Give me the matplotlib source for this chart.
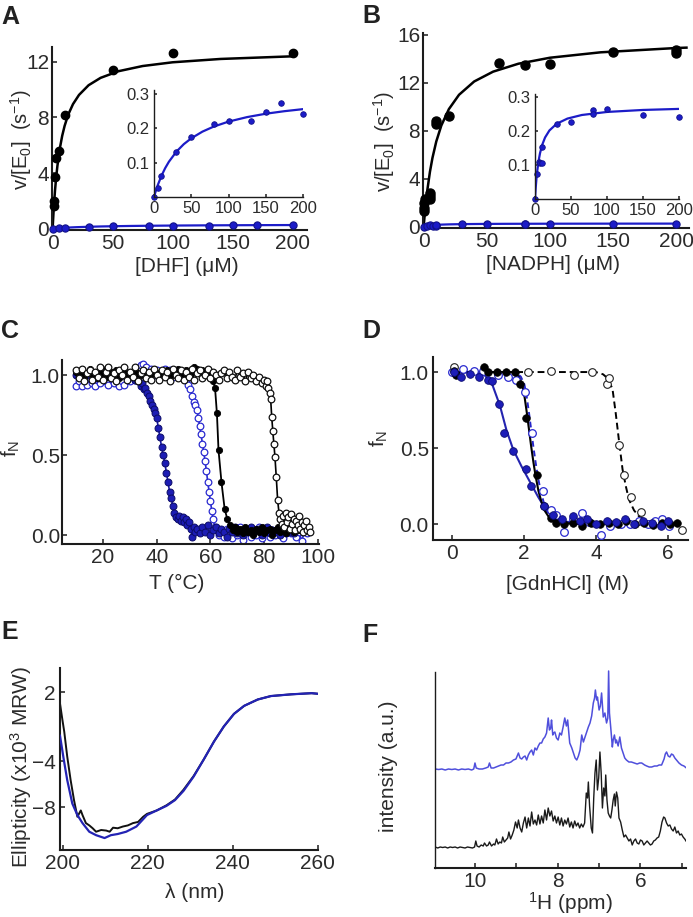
import matplotlib
matplotlib.use('Agg')
import matplotlib.pyplot as plt

plt.rcParams['font.family'] = ['Liberation Sans', 'DejaVu Sans']
plt.rcParams['mathtext.default'] = 'regular'

# ---------------- data ----------------
# Panel A (DHF)
dhf_x = [1, 1, 2, 2.5, 5, 10, 50, 100, 200]
dhf_black = [1.6, 2.0, 3.7, 5.1, 5.6, 8.2, 11.4, 12.65, 12.65]
dhf_fit_x = [0, 1, 2, 3, 4, 6, 8, 10, 13, 17, 22, 30, 40, 55, 75, 100, 140, 200]
dhf_fit_black = [0, 1.53, 2.74, 3.71, 4.51, 5.76, 6.68, 7.39, 8.20, 8.96, 9.62, 10.32,
                 10.85, 11.33, 11.70, 11.97, 12.21, 12.40]
dhf_blue_x = [0, 5, 10, 30, 50, 80, 100, 130, 150, 170, 200]
dhf_blue = [0.0, 0.026, 0.061, 0.131, 0.175, 0.212, 0.222, 0.222, 0.249, 0.273, 0.242]
dhf_fit_blue_x = [0, 2, 5, 10, 15, 20, 30, 40, 50, 65, 80, 100, 125, 150, 175, 200]
dhf_fit_blue = [0, 0.0147, 0.0343, 0.0618, 0.0842, 0.1028, 0.1321, 0.1541, 0.1711,
                0.1906, 0.2052, 0.2198, 0.2330, 0.2428, 0.2502, 0.2562]

# Panel B (NADPH)
nadph_x = [0.5, 0.5, 0.5, 1, 5, 5, 5, 10, 10, 20, 60, 80, 100, 150, 200, 200]
nadph_black = [1.3, 1.6, 2.0, 2.3, 2.3, 2.55, 2.8, 8.6, 8.8, 9.2, 13.65, 13.5, 13.6,
               14.6, 14.5, 14.75]
nadph_fit_x = [0, 1, 2, 3, 5, 7, 10, 14, 20, 28, 40, 55, 75, 100, 140, 200, 208]
nadph_fit_black = [0, 1.19, 2.22, 3.11, 4.59, 5.75, 7.11, 8.44, 9.81, 11.0, 12.11,
                   12.93, 13.59, 14.09, 14.54, 14.90, 14.93]
nadph_blue_x = [0, 2.5, 5, 7.5, 10, 10, 30, 50, 80, 80, 100, 150, 200]
nadph_blue = [0, 0.075, 0.11, 0.105, 0.105, 0.155, 0.22, 0.228, 0.262, 0.252, 0.267,
              0.248, 0.243]
nadph_fit_blue_x = [0, 1, 2, 3, 5, 7, 10, 14, 20, 30, 45, 65, 100, 150, 200]
nadph_fit_blue = [0, 0.0334, 0.0597, 0.0807, 0.1126, 0.1355, 0.1599, 0.1817, 0.2023,
                  0.2220, 0.2374, 0.2480, 0.2570, 0.2629, 0.2660]

# Panel C (thermal melts): (T, fN)
c_filled_blue = [
    (10, 1.00), (11, 0.99), (12, 1.01), (13, 0.98), (14, 1.00), (15, 1.02), (16, 0.99),
    (17, 1.01), (18, 0.98), (19, 1.00), (20, 1.02), (21, 0.99), (22, 1.01), (23, 1.00),
    (24, 0.98), (25, 1.02), (26, 0.99), (27, 1.01), (28, 1.00), (29, 0.98), (30, 1.01),
    (31, 0.99), (32, 0.97), (33, 0.96), (34, 0.93), (34.6, 0.95), (35.2, 0.91),
    (35.8, 0.92), (36.4, 0.89), (37.0, 0.87), (37.6, 0.84), (38.2, 0.81), (38.8, 0.79),
    (39.4, 0.76), (40.0, 0.73), (40.6, 0.67), (41.2, 0.61), (41.8, 0.55), (42.4, 0.50),
    (43.0, 0.45), (43.6, 0.39), (44.2, 0.33), (44.8, 0.27), (45.4, 0.23), (46.0, 0.18),
    (46.6, 0.14), (47.2, 0.11), (47.8, 0.10), (48.4, 0.12), (49.0, 0.09), (49.6, 0.11),
    (50.2, 0.08), (50.8, 0.10), (51.4, 0.06), (52.0, 0.08), (52.6, 0.04), (53.2, -0.01),
    (53.8, 0.05), (54.4, 0.02), (55, 0.04), (56, 0.01), (57, 0.05), (58, 0.02),
    (59, 0.06), (60, 0.00), (61, 0.03), (62, 0.05), (63, 0.01), (64, 0.04), (65, 0.02),
    (66, -0.01), (67, 0.04), (68, 0.02), (69, 0.05), (70, 0.01), (71, 0.03), (72, 0.00),
    (73, 0.04), (74, 0.02), (75, 0.05), (76, 0.01), (77, 0.03), (78, 0.04), (79, 0.00),
    (80, 0.02), (81, 0.05), (82, 0.01), (83, 0.03), (84, 0.02), (85, 0.04), (86, 0.00),
    (87, 0.03), (88, 0.01), (89, 0.04), (90, 0.02), (91, 0.01)]
c_open_blue = [
    (10, 0.93), (11, 0.96), (12, 0.93), (13, 0.97), (14, 0.94), (15, 0.98), (16, 0.95),
    (17, 0.93), (18, 0.97), (19, 0.95), (20, 1.00), (21, 0.96), (22, 0.94), (23, 0.98),
    (24, 0.95), (25, 0.97), (26, 0.93), (27, 0.96), (28, 0.94), (29, 0.98), (30, 0.96),
    (31, 1.00), (32, 0.97), (33, 1.03), (34, 1.06), (35, 1.07), (36, 1.05), (37, 1.02),
    (38, 1.04), (39, 1.00), (40, 1.03), (41, 0.99), (42, 1.02), (43, 1.04), (44, 1.00),
    (45, 1.03), (46, 0.99), (47, 1.02), (48, 1.00), (49, 1.01), (50, 0.98), (50.8, 0.97),
    (51.6, 0.94), (52.4, 0.91), (53.2, 0.87), (53.8, 0.83), (54.4, 0.81), (55.0, 0.78),
    (55.5, 0.73), (56.0, 0.68), (56.5, 0.63), (57.0, 0.57), (57.5, 0.52), (58.0, 0.46),
    (58.5, 0.40), (59.0, 0.33), (59.5, 0.27), (60.0, 0.21), (60.5, 0.15), (61.0, 0.10),
    (61.6, 0.05), (62.3, 0.03), (63, 0.00), (64, 0.02), (65, -0.01), (66, 0.04),
    (67, 0.01), (68, -0.02), (69, 0.03), (70, 0.00), (71, 0.05), (72, -0.03), (73, 0.02),
    (74, 0.04), (75, -0.01), (76, 0.03), (77, 0.00), (78, 0.05), (79, -0.02), (80, 0.02),
    (81, 0.04), (82, -0.01), (83, 0.03), (84, 0.00), (85, 0.04), (86, 0.01), (87, -0.02),
    (88, 0.03), (89, 0.05), (90, 0.01), (91, 0.03), (92, -0.01), (93, 0.02), (94, -0.04),
    (95, 0.03), (96, 0.01)]
c_filled_black = [
    (10, 1.02), (11, 1.00), (12, 1.03), (13, 0.99), (14, 1.01), (15, 1.04), (16, 1.00),
    (17, 1.02), (18, 0.98), (19, 1.03), (20, 1.01), (21, 1.04), (22, 0.99), (23, 1.02),
    (24, 1.00), (25, 1.03), (26, 0.98), (27, 1.01), (28, 1.04), (29, 1.00), (30, 1.02),
    (31, 0.99), (32, 1.03), (33, 1.01), (34, 1.00), (35, 1.03), (36, 0.99), (37, 1.02),
    (38, 1.00), (39, 1.04), (40, 1.01), (41, 0.98), (42, 1.02), (43, 1.00), (44, 1.03),
    (45, 0.99), (46, 1.02), (47, 1.00), (48, 1.04), (49, 1.01), (50, 0.99), (51, 1.03),
    (52, 1.00), (53, 1.02), (54, 1.05), (55, 1.04), (56, 1.01), (57, 1.03), (58, 1.00),
    (59, 1.02), (60, 0.99), (61, 0.96), (61.7, 0.92), (62.4, 0.76), (63.0, 0.53),
    (64.1, 0.33), (65.3, 0.16), (66.3, 0.10), (67.3, 0.06), (68.3, 0.03), (69, 0.05),
    (70, 0.02), (71, 0.04), (72, 0.01), (73, 0.05), (74, 0.02), (75, 0.03), (76, 0.00),
    (77, 0.04), (78, 0.02), (79, 0.05), (80, 0.01), (81, 0.03), (82, 0.04), (83, 0.00),
    (84, 0.03), (85, 0.05), (86, 0.02), (87, 0.04), (88, 0.01), (89, 0.03), (90, 0.05),
    (91, 0.02), (92, 0.04), (93, 0.03)]
c_open_black = [
    (10, 1.03), (11, 0.98), (12, 1.04), (13, 0.96), (14, 1.01), (15, 1.03), (16, 0.97),
    (17, 1.02), (18, 0.99), (19, 1.05), (20, 0.97), (21, 1.02), (22, 1.05), (23, 0.98),
    (24, 1.01), (25, 0.96), (26, 1.03), (27, 1.00), (28, 1.05), (29, 0.97), (30, 1.02),
    (31, 0.99), (32, 1.05), (33, 0.96), (34, 1.01), (35, 1.03), (36, 0.98), (37, 1.02),
    (38, 0.97), (39, 1.04), (40, 1.00), (41, 0.97), (42, 1.03), (43, 0.99), (44, 1.02),
    (45, 0.96), (46, 1.04), (47, 1.00), (48, 0.98), (49, 1.03), (50, 0.97), (51, 1.02),
    (52, 0.99), (53, 1.04), (54, 0.97), (55, 1.01), (56, 1.03), (57, 0.98), (58, 1.00),
    (59, 1.04), (60, 0.98), (61, 1.02), (62, 1.00), (63, 0.97), (64, 1.01), (65, 1.03),
    (66, 0.98), (67, 1.02), (68, 0.99), (69, 0.97), (70, 1.03), (71, 0.99), (72, 1.01),
    (73, 0.96), (74, 1.02), (75, 0.98), (76, 1.00), (77, 0.96), (78, 0.99), (79, 0.95),
    (80, 0.97), (80.5, 0.93), (81.0, 0.96), (81.5, 0.92), (82.0, 0.89), (82.4, 0.85),
    (82.8, 0.74), (83.2, 0.65), (83.6, 0.57), (84.0, 0.49), (84.5, 0.36), (85.0, 0.22),
    (85.5, 0.14), (86.0, 0.10), (86.5, 0.07), (87, 0.12), (87.5, 0.05), (88, 0.14),
    (88.5, 0.08), (89, 0.11), (89.5, 0.04), (90, 0.13), (90.5, 0.07), (91, 0.10),
    (91.5, 0.03), (92, 0.09), (92.5, 0.06), (93, 0.12), (93.5, 0.04), (94, 0.08),
    (94.5, 0.02), (95, 0.06), (95.5, 0.09), (96, 0.03), (96.5, 0.05), (97, 0.02)]

# Panel D (GdnHCl denaturation): (M, fN)
d_filled_black = [
    (0.05, 1.01), (0.1, 0.98), (0.9, 1.03), (1.0, 1.00), (1.25, 1.00), (1.5, 1.00),
    (1.75, 1.00), (1.9, 0.92), (2.05, 0.70), (2.35, 0.32), (2.55, 0.12), (2.75, 0.04),
    (2.9, 0.01), (3.1, 0.0), (3.35, 0.01), (3.6, -0.01), (3.85, 0.01), (4.1, 0.0),
    (4.35, 0.01), (4.6, 0.0), (4.85, 0.02), (5.1, 0.0), (5.35, 0.01), (5.6, -0.005),
    (5.85, 0.01), (6.05, 0.0), (6.25, 0.01)]
d_filled_blue = [
    (0.05, 1.00), (0.25, 0.97), (0.5, 0.99), (0.75, 0.97), (1.0, 0.95), (1.1, 0.94),
    (1.3, 0.79), (1.45, 0.60), (1.7, 0.48), (2.05, 0.36), (2.2, 0.25), (2.55, 0.12),
    (2.8, 0.06), (3.05, 0.03), (3.35, 0.05), (3.55, 0.02), (3.75, 0.03), (4.0, 0.0),
    (4.3, 0.02), (4.55, 0.015), (4.8, 0.03), (5.05, 0.0), (5.3, 0.02), (5.55, 0.01),
    (5.8, -0.01), (6.0, 0.02)]
d_open_blue = [
    (0.0, 1.00), (0.3, 1.02), (0.6, 1.01), (0.85, 1.01), (1.28, 0.98), (1.55, 0.97),
    (1.77, 0.95), (2.02, 0.87), (2.23, 0.60), (2.53, 0.22), (2.76, 0.09), (2.9, 0.06),
    (3.12, -0.05), (3.35, 0.03), (3.6, 0.07), (3.82, 0.015), (4.15, -0.07), (4.4, -0.01),
    (4.7, 0.0), (4.95, 0.0), (5.2, 0.02), (5.45, 0.0), (5.65, 0.02), (5.85, 0.03),
    (6.03, -0.01)]
d_open_black = [
    (0.05, 1.03), (2.1, 1.00), (2.75, 1.01), (3.4, 0.98), (3.9, 1.00), (4.32, 0.92),
    (4.37, 0.96), (4.65, 0.52), (4.78, 0.32), (4.97, 0.18), (5.25, 0.08), (6.4, -0.04)]
d_fit_black = [
    (0, 1.0), (1.7, 1.0), (1.85, 0.97), (1.95, 0.92), (2.02, 0.83), (2.08, 0.73),
    (2.14, 0.62), (2.20, 0.51), (2.26, 0.41), (2.32, 0.32), (2.40, 0.22), (2.48, 0.15),
    (2.57, 0.09), (2.68, 0.05), (2.85, 0.02), (3.1, 0.007), (3.5, 0.0), (6.3, 0.0)]
d_fit_open_blue = [
    (0, 1.0), (1.76, 1.0), (1.91, 0.97), (2.01, 0.92), (2.08, 0.83), (2.14, 0.73),
    (2.20, 0.62), (2.26, 0.51), (2.32, 0.41), (2.38, 0.32), (2.46, 0.22), (2.54, 0.15),
    (2.63, 0.09), (2.74, 0.05), (2.91, 0.02), (3.16, 0.007), (3.56, 0.0), (6.3, 0.0)]
d_fit_blue = [
    (0, 1.0), (0.7, 0.995), (0.9, 0.98), (1.10, 0.93), (1.33, 0.78), (1.51, 0.62),
    (1.70, 0.49), (1.93, 0.38), (2.16, 0.28), (2.39, 0.18), (2.62, 0.09), (2.85, 0.04),
    (3.17, 0.015), (4.0, 0.004), (6.3, 0.0)]
d_fit_open_black = [
    (0, 1.0), (4.0, 1.0), (4.2, 0.985), (4.32, 0.96), (4.46, 0.89), (4.55, 0.73),
    (4.65, 0.53), (4.74, 0.36), (4.83, 0.25), (4.92, 0.16), (5.06, 0.09), (5.2, 0.05),
    (5.47, 0.015), (5.84, 0.004), (6.3, 0.0)]

# Panel E (CD spectra): (nm, ellipticity)
e_black = [
    (199.3, 1.0), (199.9, -0.5), (200.3, -1.45), (201.0, -3.6), (201.8, -5.65),
    (202.6, -7.4), (203.4, -8.85), (204.2, -8.3), (204.6, -8.7), (205.4, -9.4),
    (206.2, -9.6), (207.0, -9.85), (207.8, -10.15), (209.0, -10.0), (210.2, -10.05),
    (211.0, -10.15), (211.8, -9.8), (212.9, -9.85), (214.1, -9.7), (215.3, -9.6),
    (216.5, -9.4), (217.7, -9.3), (218.9, -8.85), (219.8, -8.6), (222.1, -8.3),
    (224.4, -7.85), (226.4, -7.35), (228.4, -6.5), (230.8, -5.3), (233.2, -3.85),
    (235.6, -2.3), (237.9, -1.0), (240.3, 0.1), (242.7, 0.8), (245.9, 1.35),
    (249.0, 1.65), (253.8, 1.8), (258.6, 1.9), (260.0, 1.85)]
e_blue = [
    (199.3, -1.8), (200.2, -3.9), (201.0, -5.65), (202.2, -7.7), (203.4, -8.7),
    (204.6, -9.4), (206.2, -10.15), (207.8, -10.45), (209.8, -10.7), (211.3, -10.45),
    (212.9, -10.35), (214.9, -10.15), (217.3, -9.7), (219.8, -8.7), (222.1, -8.3),
    (224.4, -7.9), (226.4, -7.4), (228.4, -6.6), (230.8, -5.35), (233.2, -3.85),
    (235.6, -2.3), (237.9, -1.0), (240.3, 0.1), (242.7, 0.8), (245.9, 1.35),
    (249.0, 1.65), (253.8, 1.8), (258.6, 1.9), (260.0, 1.85)]

# Panel F (1H NMR): (ppm, intensity a.u.)
nmr_black = [
    (10.96, 0.21), (10.90, 0.20), (10.84, 0.21), (10.78, 0.205), (10.72, 0.21),
    (10.66, 0.20), (10.60, 0.21), (10.54, 0.205), (10.48, 0.21), (10.42, 0.20),
    (10.36, 0.21), (10.30, 0.205), (10.24, 0.20), (10.18, 0.21), (10.12, 0.205),
    (10.06, 0.20), (10.01, 0.21), (9.98, 0.27), (9.95, 0.22), (9.90, 0.21), (9.85, 0.23),
    (9.80, 0.22), (9.77, 0.25), (9.72, 0.22), (9.68, 0.23), (9.65, 0.26), (9.60, 0.22),
    (9.55, 0.24), (9.52, 0.23), (9.48, 0.29), (9.44, 0.24), (9.40, 0.26), (9.36, 0.25),
    (9.33, 0.31), (9.29, 0.26), (9.25, 0.28), (9.21, 0.30), (9.18, 0.36), (9.14, 0.29),
    (9.10, 0.33), (9.06, 0.38), (9.02, 0.46), (8.98, 0.40), (8.95, 0.48), (8.91, 0.40),
    (8.87, 0.36), (8.83, 0.45), (8.79, 0.51), (8.75, 0.40), (8.71, 0.50), (8.67, 0.42),
    (8.63, 0.56), (8.59, 0.44), (8.55, 0.48), (8.51, 0.43), (8.47, 0.53), (8.43, 0.44),
    (8.39, 0.52), (8.35, 0.45), (8.31, 0.58), (8.27, 0.48), (8.23, 0.60), (8.19, 0.52),
    (8.15, 0.57), (8.11, 0.47), (8.07, 0.52), (8.03, 0.45), (7.99, 0.51), (7.95, 0.43),
    (7.91, 0.50), (7.87, 0.42), (7.83, 0.48), (7.79, 0.44), (7.75, 0.50), (7.71, 0.41),
    (7.67, 0.46), (7.63, 0.40), (7.59, 0.47), (7.55, 0.42), (7.51, 0.45), (7.47, 0.40),
    (7.43, 0.44), (7.39, 0.41), (7.35, 0.45), (7.31, 0.75), (7.28, 0.70), (7.26, 0.86),
    (7.23, 0.62), (7.19, 0.40), (7.16, 0.35), (7.13, 0.70), (7.10, 0.95), (7.07, 1.08),
    (7.04, 0.78), (7.01, 0.90), (6.98, 1.16), (6.95, 0.95), (6.92, 0.60), (6.89, 0.80),
    (6.86, 0.72), (6.84, 0.93), (6.81, 0.68), (6.78, 0.55), (6.75, 0.52), (6.72, 0.50),
    (6.69, 0.58), (6.66, 0.68), (6.63, 0.74), (6.61, 0.62), (6.58, 0.76), (6.55, 0.70),
    (6.52, 0.50), (6.48, 0.46), (6.44, 0.38), (6.40, 0.31), (6.36, 0.33), (6.32, 0.30),
    (6.28, 0.27), (6.24, 0.29), (6.20, 0.23), (6.16, 0.27), (6.12, 0.29), (6.08, 0.25),
    (6.04, 0.24), (6.00, 0.28), (5.96, 0.27), (5.92, 0.23), (5.88, 0.25), (5.84, 0.27),
    (5.80, 0.25), (5.76, 0.23), (5.72, 0.24), (5.68, 0.27), (5.64, 0.28), (5.60, 0.30),
    (5.56, 0.31), (5.52, 0.37), (5.48, 0.46), (5.44, 0.51), (5.41, 0.50), (5.37, 0.45),
    (5.33, 0.42), (5.29, 0.43), (5.25, 0.39), (5.21, 0.37), (5.17, 0.41), (5.13, 0.35),
    (5.09, 0.37), (5.05, 0.33), (5.01, 0.34), (4.97, 0.31), (4.93, 0.29), (4.90, 0.27)]
nmr_blue = [
    (10.96, 0.99), (10.88, 0.985), (10.80, 0.99), (10.72, 0.98), (10.64, 0.99),
    (10.56, 0.985), (10.48, 0.99), (10.40, 0.98), (10.32, 0.99), (10.24, 0.985),
    (10.16, 0.99), (10.08, 0.98), (10.03, 0.99), (10.00, 1.05), (9.97, 1.00), (9.90, 0.99),
    (9.82, 0.99), (9.74, 1.00), (9.68, 1.01), (9.65, 1.05), (9.61, 1.00), (9.55, 1.00),
    (9.49, 1.01), (9.43, 1.02), (9.37, 1.03), (9.31, 1.03), (9.25, 1.05), (9.19, 1.05),
    (9.13, 1.06), (9.07, 1.08), (9.01, 1.09), (8.95, 1.15), (8.91, 1.10), (8.87, 1.09),
    (8.83, 1.11), (8.79, 1.12), (8.75, 1.08), (8.71, 1.13), (8.67, 1.16), (8.63, 1.18),
    (8.59, 1.13), (8.55, 1.20), (8.51, 1.18), (8.47, 1.22), (8.43, 1.25), (8.39, 1.25),
    (8.35, 1.29), (8.31, 1.31), (8.27, 1.35), (8.23, 1.50), (8.20, 1.38), (8.17, 1.40),
    (8.15, 1.48), (8.12, 1.33), (8.10, 1.35), (8.07, 1.36), (8.03, 1.30), (7.99, 1.28),
    (7.95, 1.35), (7.91, 1.33), (7.87, 1.41), (7.83, 1.50), (7.79, 1.42), (7.76, 1.48),
    (7.71, 1.25), (7.66, 1.20), (7.62, 1.15), (7.58, 1.10), (7.54, 1.08), (7.50, 1.12),
    (7.46, 1.18), (7.42, 1.33), (7.38, 1.26), (7.34, 1.31), (7.30, 1.36), (7.26, 1.41),
    (7.22, 1.45), (7.18, 1.52), (7.14, 1.65), (7.11, 1.70), (7.09, 1.78), (7.06, 1.68),
    (7.04, 1.71), (7.00, 1.58), (6.97, 1.62), (6.94, 1.75), (6.90, 1.51), (6.86, 1.55),
    (6.82, 1.45), (6.79, 1.50), (6.77, 1.97), (6.75, 1.55), (6.72, 1.41), (6.68, 1.21),
    (6.66, 1.28), (6.63, 1.33), (6.60, 1.25), (6.58, 1.28), (6.54, 1.22), (6.50, 1.31),
    (6.46, 1.20), (6.42, 1.15), (6.38, 1.10), (6.34, 1.08), (6.28, 1.06), (6.22, 1.06),
    (6.15, 1.05), (6.08, 1.04), (6.02, 1.05), (5.97, 1.05), (5.90, 1.03), (5.85, 1.02),
    (5.79, 1.01), (5.73, 1.01), (5.66, 1.02), (5.60, 1.02), (5.55, 1.03), (5.49, 1.03),
    (5.43, 1.09), (5.40, 1.14), (5.37, 1.16), (5.33, 1.12), (5.29, 1.11), (5.25, 1.14),
    (5.21, 1.13), (5.17, 1.10), (5.13, 1.08), (5.07, 1.05), (5.01, 1.03), (4.95, 1.02),
    (4.89, 1.00)]

# ---------------- figure ----------------
W, H = 693, 917
fig = plt.figure(figsize=(W / 100, H / 100), dpi=100)

TXT = '#2b2b2b'
AX = '#1c1c1c'
BLUE = '#1c1cc8'
DBLUE = '#12128a'


def box(l, t, r, b):
    return fig.add_axes([l / W, 1 - b / H, (r - l) / W, (b - t) / H])


def ftext(x, y, s, **kw):
    kw.setdefault('color', TXT)
    fig.text(x / W, 1 - y / H, s, **kw)


def style(ax, fs=15, tl=3.5):
    for s in ('top', 'right'):
        ax.spines[s].set_visible(False)
    for s in ('left', 'bottom'):
        ax.spines[s].set_linewidth(1.5)
        ax.spines[s].set_color(AX)
    ax.tick_params(direction='in', length=tl, width=1.1, labelsize=fs,
                   colors=AX, labelcolor=TXT, pad=3)
    ax.patch.set_alpha(0)


def split(pairs):
    return [p[0] for p in pairs], [p[1] for p in pairs]


# ---- Panel A ----
ax = box(52, 47, 307, 230)
style(ax)
ax.plot(dhf_fit_x, dhf_fit_black, color='black', lw=1.8, zorder=2)
ax.plot(dhf_fit_blue_x, dhf_fit_blue, color=BLUE, lw=1.6, zorder=2)
ax.plot(dhf_x, dhf_black, 'o', ms=6, color='black', zorder=3, clip_on=False)
ax.plot(dhf_blue_x, dhf_blue, 'o', ms=5.2, mfc=BLUE, mec=DBLUE, mew=0.8, zorder=4,
        clip_on=False)
ax.set_xlim(-0.5, 212)
ax.set_ylim(-0.1, 13.07)
ax.set_xticks([0, 50, 100, 150, 200])
ax.set_yticks([0, 4, 8, 12])
ax.tick_params(axis='y', pad=2)

ins = box(154, 90, 303, 197)
style(ins, fs=12, tl=2.5)
ins.plot(dhf_fit_blue_x, dhf_fit_blue, color=BLUE, lw=1.6)
ins.plot(dhf_blue_x, dhf_blue, 'o', ms=4, mfc=BLUE, mec=DBLUE, mew=0.6, clip_on=False)
ins.set_xlim(0, 200)
ins.set_ylim(0, 0.312)
ins.set_xticks([0, 50, 100, 150, 200])
ins.set_yticks([0.1, 0.2, 0.3])
ins.spines['left'].set_linewidth(1.0)
ins.spines['bottom'].set_linewidth(1.0)

ftext(21, 140, 'v/[E$_0$]  (s$^{-1}$)', fontsize=14.5, rotation=90, ha='center',
      va='center')
ftext(187, 267, '[DHF] (\u03bcM)', fontsize=15, ha='center', va='center')

# ---- Panel B ----
ax = box(423, 33, 689, 228)
style(ax)
ax.plot(nadph_fit_x, nadph_fit_black, color='black', lw=1.8, zorder=2)
ax.plot(nadph_fit_blue_x, nadph_fit_blue, color=BLUE, lw=1.6, zorder=2)
ax.plot(nadph_x, nadph_black, 'o', ms=6.5, color='black', zorder=3, clip_on=False)
ax.plot(nadph_blue_x, nadph_blue, 'o', ms=5.2, mfc=BLUE, mec=DBLUE, mew=0.8, zorder=4,
        clip_on=False)
ax.set_xlim(-0.5, 210)
ax.set_ylim(-0.1, 16.15)
ax.set_xticks([0, 50, 100, 150, 200])
ax.set_yticks([0, 4, 8, 12, 16])
ax.tick_params(axis='y', pad=2)

ins = box(535, 94, 679, 199)
style(ins, fs=12, tl=2.5)
ins.plot(nadph_fit_blue_x, nadph_fit_blue, color=BLUE, lw=1.6)
ins.plot(nadph_blue_x, nadph_blue, 'o', ms=4, mfc=BLUE, mec=DBLUE, mew=0.6, clip_on=False)
ins.set_xlim(0, 200)
ins.set_ylim(0, 0.31)
ins.set_xticks([0, 50, 100, 150, 200])
ins.set_yticks([0.1, 0.2, 0.3])
ins.spines['left'].set_linewidth(1.0)
ins.spines['bottom'].set_linewidth(1.0)

ftext(384, 142, 'v/[E$_0$]  (s$^{-1}$)', fontsize=14.5, rotation=90, ha='center',
      va='center')
ftext(553, 265, '[NADPH] (\u03bcM)', fontsize=15, ha='center', va='center')

# ---- Panel C ----
ax = box(62, 360, 319, 544)
style(ax)
T, f = split(c_open_blue)
ax.plot(T, f, '-o', color='#2a2ad0', lw=1.2, ms=4.8, mfc='white', mec='#2a2ad0', mew=0.9,
        zorder=2)
T, f = split(c_filled_blue)
ax.plot(T, f, '-o', color='#1a1aa8', lw=1.2, ms=5.0, mfc='#1d1db4', mec='#0c0c66', mew=0.7,
        zorder=3)
T, f = split(c_filled_black)
ax.plot(T, f, '-o', color='black', lw=1.3, ms=4.5, mfc='black', mec='black', mew=0.6,
        zorder=4)
T, f = split(c_open_black)
ax.plot(T, f, '-o', color='black', lw=1.2, ms=4.8, mfc='white', mec='#111111', mew=0.9,
        zorder=5)
ax.set_xlim(4.74, 100.4)
ax.set_ylim(-0.056, 1.094)
ax.set_xticks([20, 40, 60, 80, 100])
ax.set_yticks([0.0, 0.5, 1.0])
ax.set_yticklabels(['0.0', '0.5', '1.0'])
ax.tick_params(axis='y', pad=1.5)
ftext(11, 448, 'f$_N$', fontsize=15, rotation=90, ha='center', va='center')
ftext(177, 583, 'T (\u00b0C)', fontsize=15, ha='center', va='center')

# ---- Panel D ----
ax = box(433, 357, 688, 540)
style(ax)
x, y = split(d_fit_blue)
ax.plot(x, y, '-', color='#2424b0', lw=1.5, zorder=2)
x, y = split(d_fit_open_blue)
ax.plot(x, y, '--', color='#2424c8', lw=1.4, dashes=(3, 2), zorder=2)
x, y = split(d_fit_black)
ax.plot(x, y, '-', color='black', lw=1.5, zorder=2)
x, y = split(d_fit_open_black)
ax.plot(x, y, '--', color='black', lw=1.4, dashes=(3.5, 2), zorder=2)
x, y = split(d_open_blue)
ax.plot(x, y, 'o', ms=5.5, mfc='white', mec='#2a2ad0', mew=0.9, zorder=3, clip_on=False)
x, y = split(d_open_black)
ax.plot(x, y, 'o', ms=5.5, mfc='white', mec='#222222', mew=0.8, zorder=3, clip_on=False)
x, y = split(d_filled_black)
ax.plot(x, y, 'o', ms=5.5, mfc='black', mec='black', mew=0.5, zorder=4, clip_on=False)
x, y = split(d_filled_blue)
ax.plot(x, y, 'o', ms=5.5, mfc='#1d1db8', mec='#0c0c70', mew=0.6, zorder=5, clip_on=False)
ax.set_xlim(-0.53, 6.56)
ax.set_ylim(-0.105, 1.099)
ax.set_xticks([0, 2, 4, 6])
ax.set_yticks([0.0, 0.5, 1.0])
ax.set_yticklabels(['0.0', '0.5', '1.0'])
ftext(379, 438, 'f$_N$', fontsize=15, rotation=90, ha='center', va='center')
ftext(567, 584, '[GdnHCl] (M)', fontsize=15, ha='center', va='center')

# ---- Panel E ----
ax = box(60, 668, 318, 850)
style(ax)
x, y = split(e_black)
ax.plot(x, y, color='#111111', lw=1.4, zorder=2)
x, y = split(e_blue)
ax.plot(x, y, color='#2323b4', lw=1.6, zorder=3)
ax.set_xlim(199.3, 260.1)
ax.set_ylim(-11.74, 4.09)
ax.set_xticks([200, 220, 240, 260])
ax.set_yticks([2, -4, -8])
ftext(21, 767, 'Ellipticity (x10$^3$ MRW)', fontsize=15, rotation=90, ha='center',
      va='center')
ftext(195, 892, '\u03bb (nm)', fontsize=15, ha='center', va='center')

# ---- Panel F ----
ax = box(435, 661, 686, 868)
style(ax)
x, y = split(nmr_blue)
ax.plot(x, y, color='#4f4fdc', lw=1.1)
x, y = split(nmr_black)
ax.plot(x, y, color='#1a1a1a', lw=1.0)
ax.set_xlim(10.966, 4.90)
ax.set_ylim(0, 2.07)
ax.spines['left'].set_bounds(0, 1.96)
ax.spines['left'].set_linewidth(1.0)
ax.set_yticks([])
ax.set_xticks([10, 9, 8, 7, 6, 5])
ax.set_xticklabels(['10', '', '8', '', '6', ''])
ftext(389, 766, 'intensity (a.u.)', fontsize=15, rotation=90, ha='center', va='center')
ftext(570, 903, '$^1$H (ppm)', fontsize=15, ha='center', va='center')

# ---- panel letters ----
for lab, xx, yy in [('A', 1, 5), ('B', 362, 4), ('C', 1, 319), ('D', 362, 319),
                    ('E', 1, 620), ('F', 362, 623)]:
    ftext(xx, yy, lab, fontsize=18, fontweight='bold', ha='left', va='top', color='#222222')

fig.savefig('out.png', dpi=100)
